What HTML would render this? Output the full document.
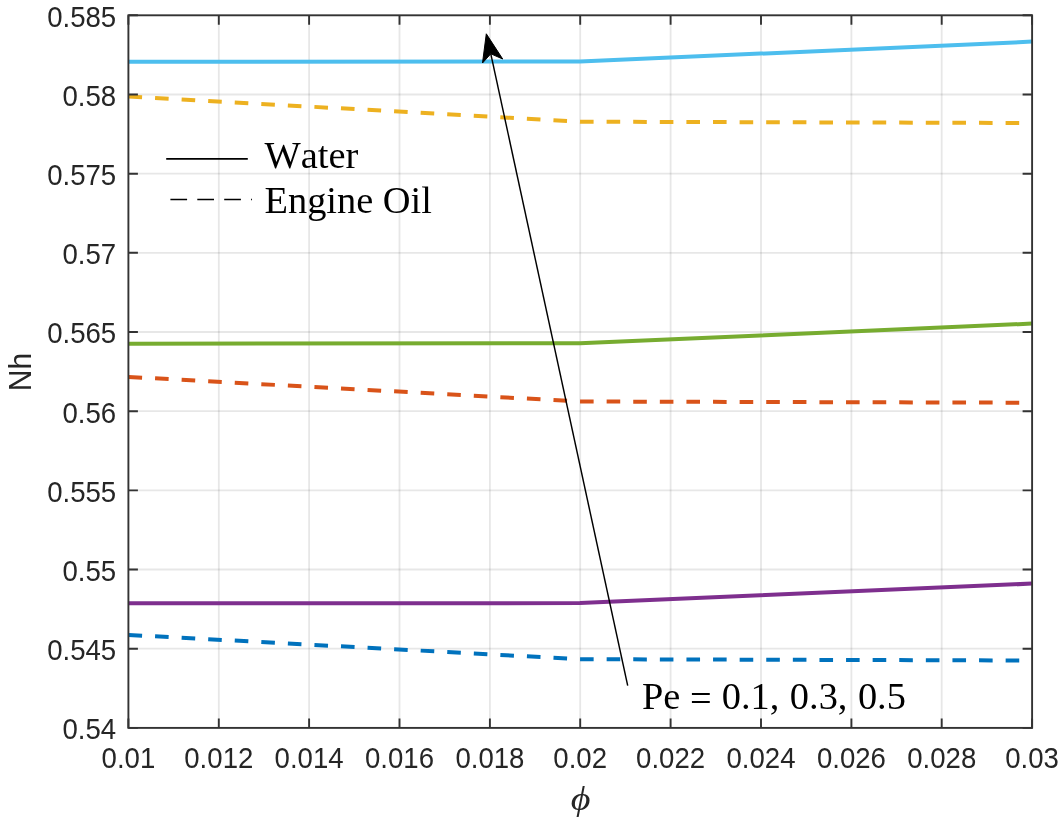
<!DOCTYPE html>
<html><head><meta charset="utf-8"><title>Nh vs phi</title>
<style>
html,body{margin:0;padding:0;background:#fff;}
body{width:1062px;height:823px;overflow:hidden;}
svg{display:block;filter:blur(0.4px);}
.tk{font-family:"Liberation Sans",Arial,Helvetica,sans-serif;font-size:27.6px;fill:#262626;}
.tm{font-family:"Liberation Serif","Times New Roman",serif;font-size:38.4px;fill:#000;font-kerning:none;}
</style></head><body>
<svg width="1062" height="823" viewBox="0 0 1062 823">
<rect x="0" y="0" width="1062" height="823" fill="#fff"/>
<path d="M218.8 15.3V727.9M309.1 15.3V727.9M399.5 15.3V727.9M489.9 15.3V727.9M580.2 15.3V727.9M670.6 15.3V727.9M761.0 15.3V727.9M851.4 15.3V727.9M941.7 15.3V727.9" stroke="#262626" stroke-opacity="0.11" stroke-width="1.8" fill="none"/>
<path d="M128.4 648.7H1032.1M128.4 569.5H1032.1M128.4 490.4H1032.1M128.4 411.2H1032.1M128.4 332.0H1032.1M128.4 252.8H1032.1M128.4 173.7H1032.1M128.4 94.5H1032.1" stroke="#262626" stroke-opacity="0.11" stroke-width="1.8" fill="none"/>
<path d="M128.5 634.9 L580.0 659.2 L1032.0 660.5" stroke="#0072BD" stroke-width="4.0" fill="none" stroke-linejoin="round" stroke-dasharray="13.6 13"/>
<path d="M128.5 376.9 L580.0 401.5 L1032.0 402.7" stroke="#D95319" stroke-width="4.0" fill="none" stroke-linejoin="round" stroke-dasharray="13.6 13"/>
<path d="M128.5 96.5 L580.0 121.7 L1032.0 123.0" stroke="#EDB120" stroke-width="4.0" fill="none" stroke-linejoin="round" stroke-dasharray="13.6 13"/>
<path d="M128.5 603.3 L580.0 603.1 L1032.0 583.6" stroke="#7E2F8E" stroke-width="4.0" fill="none" stroke-linejoin="round"/>
<path d="M128.5 343.7 L580.0 343.3 L1032.0 323.6" stroke="#77AC30" stroke-width="4.0" fill="none" stroke-linejoin="round"/>
<path d="M128.5 61.7 L580.0 61.6 L1032.0 41.6" stroke="#4DBEEE" stroke-width="4.0" fill="none" stroke-linejoin="round"/>
<path d="M128.4 727.9V718.4M128.4 15.3V24.8M218.8 727.9V718.4M218.8 15.3V24.8M309.1 727.9V718.4M309.1 15.3V24.8M399.5 727.9V718.4M399.5 15.3V24.8M489.9 727.9V718.4M489.9 15.3V24.8M580.2 727.9V718.4M580.2 15.3V24.8M670.6 727.9V718.4M670.6 15.3V24.8M761.0 727.9V718.4M761.0 15.3V24.8M851.4 727.9V718.4M851.4 15.3V24.8M941.7 727.9V718.4M941.7 15.3V24.8M1032.1 727.9V718.4M1032.1 15.3V24.8M128.4 727.9H137.9M1032.1 727.9H1022.6M128.4 648.7H137.9M1032.1 648.7H1022.6M128.4 569.5H137.9M1032.1 569.5H1022.6M128.4 490.4H137.9M1032.1 490.4H1022.6M128.4 411.2H137.9M1032.1 411.2H1022.6M128.4 332.0H137.9M1032.1 332.0H1022.6M128.4 252.8H137.9M1032.1 252.8H1022.6M128.4 173.7H137.9M1032.1 173.7H1022.6M128.4 94.5H137.9M1032.1 94.5H1022.6M128.4 15.3H137.9M1032.1 15.3H1022.6" stroke="#333333" stroke-width="1.9" fill="none"/>
<rect x="128.4" y="15.3" width="903.7" height="712.6" stroke="#333333" stroke-width="1.9" fill="none"/>
<text class="tk" transform="translate(128.4 767.9) scale(1 1.055)" text-anchor="middle">0.01</text>
<text class="tk" transform="translate(218.8 767.9) scale(1 1.055)" text-anchor="middle">0.012</text>
<text class="tk" transform="translate(309.1 767.9) scale(1 1.055)" text-anchor="middle">0.014</text>
<text class="tk" transform="translate(399.5 767.9) scale(1 1.055)" text-anchor="middle">0.016</text>
<text class="tk" transform="translate(489.9 767.9) scale(1 1.055)" text-anchor="middle">0.018</text>
<text class="tk" transform="translate(580.2 767.9) scale(1 1.055)" text-anchor="middle">0.02</text>
<text class="tk" transform="translate(670.6 767.9) scale(1 1.055)" text-anchor="middle">0.022</text>
<text class="tk" transform="translate(761.0 767.9) scale(1 1.055)" text-anchor="middle">0.024</text>
<text class="tk" transform="translate(851.4 767.9) scale(1 1.055)" text-anchor="middle">0.026</text>
<text class="tk" transform="translate(941.7 767.9) scale(1 1.055)" text-anchor="middle">0.028</text>
<text class="tk" transform="translate(1032.1 767.9) scale(1 1.055)" text-anchor="middle">0.03</text>
<text class="tk" transform="translate(116.2 739.2) scale(1 1.055)" text-anchor="end">0.54</text>
<text class="tk" transform="translate(116.2 660.0) scale(1 1.055)" text-anchor="end">0.545</text>
<text class="tk" transform="translate(116.2 580.8) scale(1 1.055)" text-anchor="end">0.55</text>
<text class="tk" transform="translate(116.2 501.7) scale(1 1.055)" text-anchor="end">0.555</text>
<text class="tk" transform="translate(116.2 422.5) scale(1 1.055)" text-anchor="end">0.56</text>
<text class="tk" transform="translate(116.2 343.3) scale(1 1.055)" text-anchor="end">0.565</text>
<text class="tk" transform="translate(116.2 264.1) scale(1 1.055)" text-anchor="end">0.57</text>
<text class="tk" transform="translate(116.2 185.0) scale(1 1.055)" text-anchor="end">0.575</text>
<text class="tk" transform="translate(116.2 105.8) scale(1 1.055)" text-anchor="end">0.58</text>
<text class="tk" transform="translate(116.2 26.6) scale(1 1.055)" text-anchor="end">0.585</text>
<text transform="translate(30.9 372) rotate(-90) scale(1 1.075)" text-anchor="middle" style="font-family:'Liberation Sans',Arial,sans-serif;font-size:30px;fill:#262626">Nh</text>
<text transform="translate(580.5 809.5) scale(1.12 1)" text-anchor="middle" style="font-family:'Liberation Serif','DejaVu Serif',serif;font-style:italic;font-size:34px;fill:#262626">&#x3D5;</text>
<path d="M166.2 158.9H247.8" stroke="#000" stroke-width="1.8" fill="none"/>
<path d="M170.4 199.6H252" stroke="#000" stroke-width="1.5" fill="none" stroke-dasharray="16.7 10.2"/>
<text class="tm" x="264.5" y="168.1">Water</text>
<text class="tm" x="264.5" y="213.3">Engine Oil</text>
<path d="M627.7 685.7L490.8 53.8" stroke="#000" stroke-width="1.45" fill="none"/>
<path d="M486.3 33.8L502.7 59L490.8 53.8L482.5 63Z" fill="#000" stroke="#000" stroke-width="1" stroke-linejoin="miter"/>
<text class="tm" x="642" y="708.5">Pe <tspan dy="2.5">=</tspan><tspan dy="-2.5" dx="0.5"> 0.1,</tspan><tspan dx="0.9"> 0.3,</tspan><tspan dx="0.9"> 0.5</tspan></text>
</svg>
</body></html>
